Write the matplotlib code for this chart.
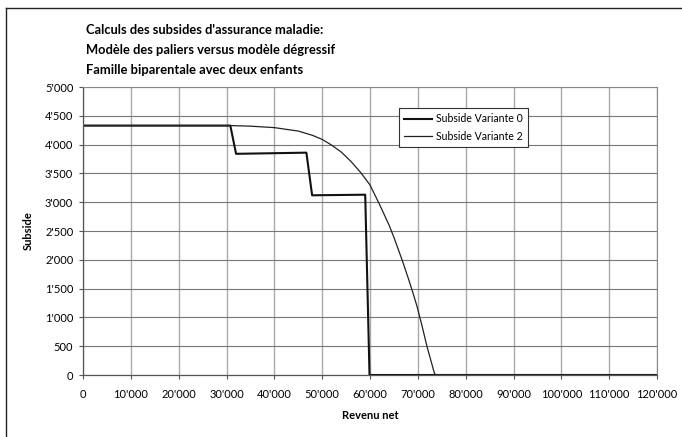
import matplotlib
matplotlib.use('Agg')
import matplotlib.pyplot as plt
from matplotlib.ticker import FuncFormatter, MultipleLocator
from matplotlib.lines import Line2D

plt.rcParams['font.family'] = ['Lato', 'DejaVu Sans']

# data
revenu_v0 = [0, 30800, 32000, 46700, 47900, 59000, 59900, 120000]
subside_v0 = [4330, 4330, 3840, 3860, 3120, 3130, 0, 0]

revenu_v2 = [0, 31000, 35000, 40000, 45000, 48000, 50000, 52000, 54000, 56000,
             58000, 60000, 62000, 64000, 65000, 66700, 68000, 69000, 69800,
             70800, 71900, 72800, 73500, 74000, 120000]
subside_v2 = [4330, 4330, 4320, 4295, 4235, 4160, 4090, 3990, 3870, 3710,
              3520, 3300, 2960, 2600, 2390, 2000, 1680, 1420, 1200,
              880, 500, 230, 20, 0, 0]

titre = ["Calculs des subsides d'assurance maladie:",
         "Modèle des paliers versus modèle dégressif",
         "Famille biparentale avec deux enfants"]

fig = plt.figure(figsize=(6.82, 4.37), dpi=100)
ax = fig.add_axes([83 / 682, 1 - 375 / 437, (657 - 83) / 682, (375 - 87) / 437])

ax.plot(revenu_v0, subside_v0, color='#111111', lw=1.5, label='Subside Variante 0')
ax.plot(revenu_v2, subside_v2, color='#222222', lw=0.9, label='Subside Variante 2')

ax.set_xlim(0, 120000)
ax.set_ylim(0, 5000)
ax.xaxis.set_major_locator(MultipleLocator(10000))
ax.yaxis.set_major_locator(MultipleLocator(500))
fmt = FuncFormatter(lambda v, p: f"{int(v):,}".replace(',', "'"))
ax.xaxis.set_major_formatter(fmt)
ax.yaxis.set_major_formatter(fmt)
ax.tick_params(labelsize=8, length=3, width=0.8, color='#555555', pad=4)
ax.tick_params(axis='x', pad=7)

ax.grid(axis='y', color='#777777', lw=0.8)
ax.grid(axis='x', color='#aaaaaa', lw=1.0)
ax.set_axisbelow(True)
for s in ['top', 'right']:
    ax.spines[s].set_color('#888888')
    ax.spines[s].set_linewidth(0.8)
for s in ['left', 'bottom']:
    ax.spines[s].set_color('#555555')
    ax.spines[s].set_linewidth(0.9)

ax.set_xlabel('Revenu net', fontsize=8, fontweight='bold', labelpad=7)
ax.set_ylabel('Subside', fontsize=8, fontweight='bold', labelpad=8)

leg = ax.legend(loc='upper left', bbox_to_anchor=((399 - 83) / 574, 1 - (108 - 87) / 288),
                fontsize=7.6, frameon=True, fancybox=False, edgecolor='#333333',
                framealpha=1, borderpad=0.5, handlelength=2.6, handletextpad=0.4,
                labelspacing=0.6, borderaxespad=0)
leg.get_frame().set_linewidth(0.8)

for i, t in enumerate(titre):
    fig.text(86 / 682, 1 - (30 + 20 * i) / 437, t, fontsize=9.3, fontweight='bold',
             va='center', ha='left')

# outer chart frame (cut on right and bottom)
fig.add_artist(Line2D([6 / 682, 1], [1 - 8 / 437, 1 - 8 / 437], color='#222222', lw=1))
fig.add_artist(Line2D([6 / 682, 6 / 682], [0, 1 - 8 / 437], color='#222222', lw=1))

fig.savefig('out.png', dpi=100)
